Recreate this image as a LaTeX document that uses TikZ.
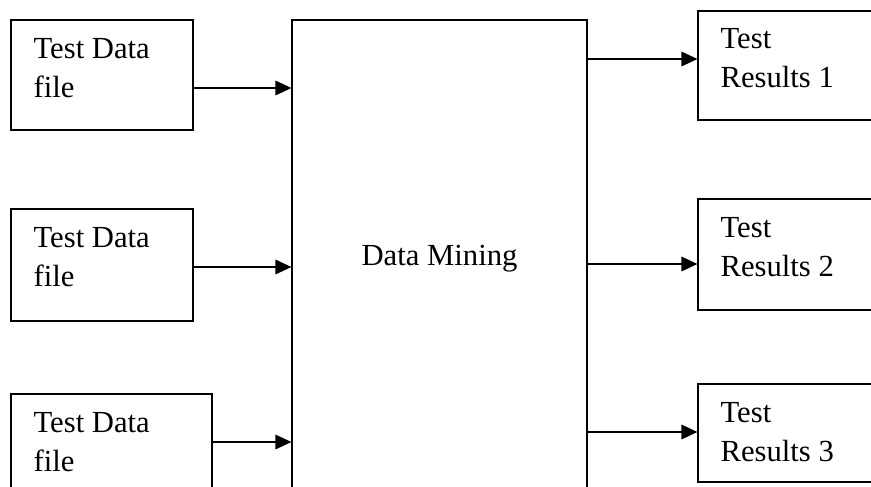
\documentclass[tikz,border=0pt]{standalone}
\usepackage{fontspec}
\setmainfont{Liberation Serif}
\usetikzlibrary{arrows.meta}

\begin{document}
\begin{tikzpicture}
  [x=0.75pt,y=-0.75pt,
   line width=0.9pt,
   boxN/.style={draw,inner sep=0pt},
   txtN/.style={anchor=north west,inner sep=0pt,align=left,
                font=\fontsize{23pt}{29.25pt}\selectfont},
   arr/.style={-{Triangle[length=12pt,width=11pt]}},
  ]
 \useasboundingbox (0,0) rectangle (871,486);
 \clip (0,0) rectangle (871,486);

 % input files
 \node[boxN,minimum width=136.5pt,minimum height=82.5pt] (in1) at (102,75) {};
 \node[boxN,minimum width=136.5pt,minimum height=84pt] (in2) at (102,265) {};
 \node[boxN,minimum width=150.75pt,minimum height=79.5pt] (in3) at (111.5,447) {};
 \node[txtN] (t1) at (33,38) {Test Data\\file};
 \node[txtN] (t2) at (33,227) {Test Data\\file};
 \node[txtN] (t3) at (33,412) {Test Data\\file};

 % mining block
 \node[boxN,minimum width=221.25pt,minimum height=360pt] (dm) at (439.5,260) {};
 \node[font=\fontsize{23pt}{29.25pt}\selectfont] (dmt) at (439.5,259) {Data Mining};

 % results
 \node[boxN,minimum width=136.5pt,minimum height=81.75pt] (out1) at (789,65.5) {};
 \node[boxN,minimum width=136.5pt,minimum height=83.25pt] (out2) at (789,254.5) {};
 \node[boxN,minimum width=136.5pt,minimum height=73.5pt] (out3) at (789,433) {};
 \node[txtN] (r1) at (720,28) {Test\\Results 1};
 \node[txtN] (r2) at (720,217) {Test\\Results 2};
 \node[txtN] (r3) at (720,402) {Test\\Results 3};

 \draw[arr] (in1.east |- 0,88) -- (dm.west |- 0,88);
 \draw[arr] (in2.east |- 0,267) -- (dm.west |- 0,267);
 \draw[arr] (in3.east |- 0,442) -- (dm.west |- 0,442);
 \draw[arr] (dm.east |- 0,59) -- (out1.west |- 0,59);
 \draw[arr] (dm.east |- 0,264) -- (out2.west |- 0,264);
 \draw[arr] (dm.east |- 0,432) -- (out3.west |- 0,432);
\end{tikzpicture}
\end{document}
